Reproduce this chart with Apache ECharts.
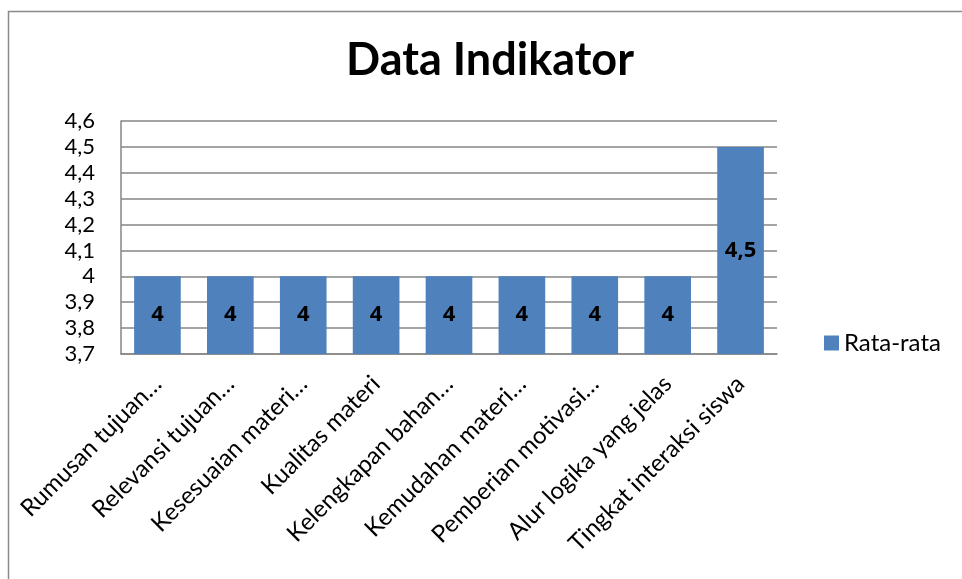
<!DOCTYPE html>
<html>
<head>
<meta charset="utf-8">
<script src="https://cdn.jsdelivr.net/npm/echarts@6/dist/echarts.min.js"></script>
<style>
  html, body { margin: 0; padding: 0; background: #fff; }
  #chart { width: 962px; height: 579px; }
</style>
</head>
<body>
<div id="chart"></div>
<script>
// Indicator labels as shown on the category axis
const categories = [
  'Rumusan tujuan…',
  'Relevansi tujuan…',
  'Kesesuaian materi…',
  'Kualitas materi',
  'Kelengkapan bahan…',
  'Kemudahan materi…',
  'Pemberian motivasi…',
  'Alur logika yang jelas',
  'Tingkat interaksi siswa'
];
// Average score per indicator
const rataRata = [4, 4, 4, 4, 4, 4, 4, 4, 4.5];
const seriesName = 'Rata-rata';
const chartTitle = 'Data Indikator';

const FONT = 'Lato, "Open Sans", sans-serif';
const BOLD_FONT = '"Open Sans", "Noto Sans", sans-serif';
const comma = v => String(parseFloat(Number(v).toFixed(2))).replace('.', ',');

const chart = echarts.init(document.getElementById('chart'));
chart.setOption({
  animation: false,
  backgroundColor: '#ffffff',
  graphic: [{
    type: 'rect',
    left: 6, top: 9,
    shape: { width: 1000, height: 620 },
    style: { fill: 'none', stroke: '#8a8a8a', lineWidth: 1.5 },
    silent: true,
    z: -1
  }],
  title: {
    text: chartTitle,
    left: 485,
    textAlign: 'center',
    top: 33,
    textStyle: { fontFamily: FONT, fontSize: 45, fontWeight: 'bold', color: '#000' }
  },
  legend: {
    data: [seriesName],
    left: 819,
    top: 326,
    itemWidth: 15,
    itemHeight: 15,
    itemGap: 8,
    icon: 'rect',
    textStyle: { fontFamily: FONT, fontSize: 24, color: '#000' }
  },
  grid: { left: 121, right: 185, top: 121, bottom: 225, containLabel: false },
  xAxis: {
    type: 'category',
    data: categories,
    axisLine: { show: true, lineStyle: { color: '#868686', width: 1.5 } },
    axisTick: { show: false },
    axisLabel: {
      rotate: 45,
      interval: 0,
      margin: 26,
      fontFamily: FONT,
      fontSize: 24,
      color: '#000'
    }
  },
  yAxis: {
    type: 'value',
    min: 3.7,
    max: 4.6,
    interval: 0.1,
    axisLine: { show: true, lineStyle: { color: '#868686', width: 1.5 } },
    axisTick: { show: false },
    splitLine: { show: true, lineStyle: { color: '#868686', width: 1.5 } },
    axisLabel: {
      margin: 26,
      fontFamily: FONT,
      fontSize: 22,
      color: '#000',
      formatter: comma
    }
  },
  series: [{
    name: seriesName,
    type: 'bar',
    data: rataRata,
    barWidth: '64%',
    itemStyle: { color: '#4f81bd' },
    label: {
      show: true,
      position: 'inside',
      fontFamily: BOLD_FONT,
      fontSize: 22,
      fontWeight: 'bold',
      color: '#000',
      formatter: p => comma(p.value)
    }
  }]
});
</script>
</body>
</html>
